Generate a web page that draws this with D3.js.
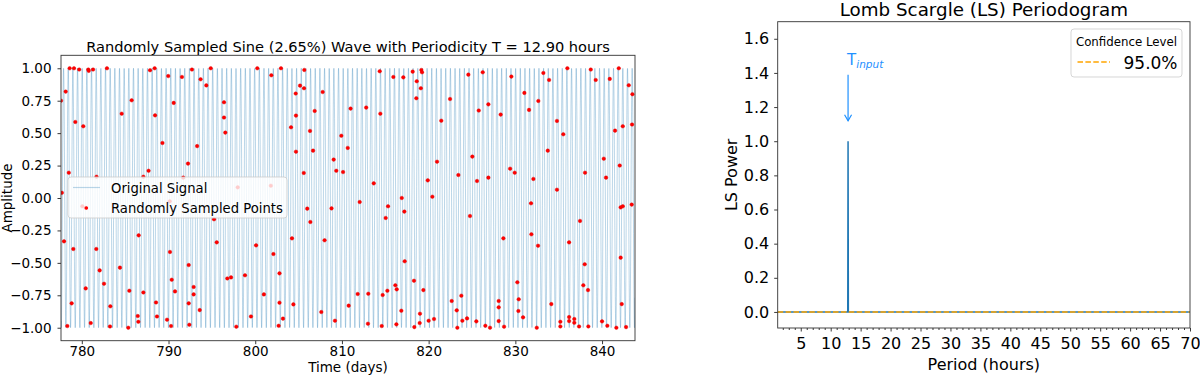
<!DOCTYPE html>
<html>
<head>
<meta charset="utf-8">
<script src="https://cdn.jsdelivr.net/npm/d3@7"></script>
<style>
  body { margin: 0; background: #fff; }
  svg { font-family: "DejaVu Sans", sans-serif; }
</style>
</head>
<body>
<script>
// ---- chart values ----
const signalPeriodHours = 12.90;
const sampledPercent = 2.65;

// randomly sampled points (time in days, amplitude)
const sampleTimes = [
  777.60, 778.14, 778.60, 779.10, 779.70, 780.75, 780.80, 781.30, 782.90, 778.50, 779.25, 780.17,
  781.70, 784.60, 785.75, 787.10, 787.70, 787.87, 788.40, 788.45, 789.30, 789.97, 790.60, 791.55,
  792.25, 792.70, 793.30, 793.70, 794.36, 794.87, 796.40, 796.40, 796.55, 791.70, 797.98, 777.70,
  800.24, 801.86, 802.97, 805.66, 805.17, 805.63, 804.67, 807.78, 804.70, 806.86, 804.13, 806.32,
  811.00, 812.80, 814.43, 804.70, 806.67, 809.93, 810.67, 809.05, 809.35, 810.13, 805.60, 813.67,
  814.36, 815.93, 817.08, 818.16, 819.16, 819.24, 818.63, 819.10, 818.58, 822.47, 821.46, 820.97,
  819.90, 816.90, 820.43, 801.80,
  824.58, 826.24, 829.54, 833.23, 833.89, 836.00, 838.70, 839.27, 840.89, 841.93, 843.08, 843.50,
  831.04, 832.65, 831.58, 825.78, 826.89, 828.31, 834.80, 835.53, 841.50, 842.39, 843.46, 825.04,
  833.74, 840.20, 842.04, 823.43, 825.58, 826.89, 829.40, 829.93, 832.08, 834.80, 838.04, 840.46,
  777.95, 779.02, 781.67, 782.06, 782.56, 780.45, 784.40, 786.56, 785.48, 787.10, 790.17, 790.37,
  790.75, 792.33, 792.90, 792.90, 793.60, 795.56, 796.78, 797.21, 798.82, 778.83, 783.29, 788.56,
  792.33, 778.33, 781.03, 783.25, 785.36, 786.45, 786.52, 788.67, 789.83, 790.29, 792.40, 797.82,
  799.51, 780.48, 780.06, 790.14, 795.25,
  806.00, 806.36, 804.24, 802.10, 802.80, 801.00, 802.80, 804.40, 802.70, 803.20, 800.10, 808.00,
  808.80, 807.62, 809.20, 810.78, 811.82, 812.05, 813.04, 813.00, 814.70, 814.59, 815.24, 815.05,
  815.32, 816.16, 816.32, 816.28, 817.20, 817.24, 816.85, 818.31, 819.00, 818.97, 818.35, 819.39,
  820.00, 820.62,
  831.81, 824.77, 837.46, 842.15, 842.39, 843.42, 828.62, 831.85, 832.62, 836.20, 842.15, 838.00,
  837.84, 838.38, 830.23, 830.39, 830.35, 830.89, 828.08, 828.08, 828.08, 828.70, 822.66, 823.77,
  823.24, 823.31, 823.89, 824.43, 825.50, 826.54, 827.08, 832.47, 834.15, 835.19, 835.19, 836.20,
  836.20, 836.80, 836.80, 837.35, 838.42, 840.00, 840.61, 841.65, 842.27, 842.77
];
const sampleAmps = [
  0.750, 0.820, 1.000, 1.000, 0.990, 0.990, 0.980, 0.990, 1.000, 0.195, 0.586, 0.553,
  0.164, 0.650, 0.753, 0.164, 0.210, 0.985, 1.000, 0.637, 0.424, 0.940, 0.733, 0.933,
  0.265, 0.990, 0.400, 0.915, 0.868, 1.000, 0.738, 0.620, 0.504, 0.157, 0.082, 0.040,
  1.000, 0.946, 1.000, 0.987, 0.866, 0.846, 0.805, 0.817, 0.635, 0.671, 0.545, 0.517,
  0.689, 0.697, 0.650, 0.357, 0.365, 0.480, 0.386, 0.296, 0.210, 0.200, 0.193, 0.113,
  0.977, 0.933, 0.930, 0.974, 0.987, 0.969, 0.900, 0.846, 0.769, 0.763, 0.596, 0.280,
  0.136, 0.000, 0.010, 0.095,
  0.951, 0.969, 0.936, 0.964, 0.910, 1.000, 0.990, 0.910, 0.918, 1.000, 0.869, 0.800,
  0.810, 0.748, 0.679, 0.674, 0.722, 0.643, 0.594, 0.491, 0.519, 0.553, 0.566, 0.319,
  0.365, 0.303, 0.250, 0.177, 0.131, 0.157, 0.226, 0.195, 0.147, 0.064, 0.195, 0.157,
  -0.334, -0.393, -0.393, -0.558, -0.661, -0.697, -0.537, -0.288, -0.715, -0.728, -0.416, -0.630,
  -0.720, -0.517, -0.686, -0.743, -0.864, -0.342, -0.620, -0.612, -0.596, -0.812, -0.835, -0.805,
  -0.812, -0.987, -0.964, -0.990, -1.000, -0.910, -0.954, -0.913, -0.938, -0.987, -0.977, -0.992,
  -0.913, -0.077, -0.064, -0.026, -0.164,
  -0.082, -0.185, -0.311, -0.432, -0.581, -0.743, -0.807, -0.820, -0.985, -0.930, -0.365, -0.326,
  -0.080, -0.879, -0.946, -0.830, -0.740, -0.031, -0.738, -0.969, -0.748, -0.987, -0.715, -0.154,
  -0.064, -0.673, -0.704, -0.974, -0.105, -0.488, -0.869, -0.638, -0.892, -0.964, -0.995, -0.710,
  -0.946, -0.933,
  -0.041, -0.139, -0.177, -0.072, -0.064, -0.051, -0.311, -0.280, -0.368, -0.342, -0.460, -0.511,
  -0.673, -0.710, -0.650, -0.781, -0.871, -0.920, -0.794, -0.843, -0.949, -0.992, -0.794, -0.753,
  -0.866, -1.000, -0.946, -0.928, -0.951, -0.985, -1.000, -1.000, -0.818, -0.954, -0.990, -0.918,
  -0.949, -0.933, -0.962, -0.990, -0.990, -0.951, -0.985, -1.000, -0.818, -0.995
];
const timeRange = [777.6, 843.8];
const timeTicks = [780, 790, 800, 810, 820, 830, 840];
const ampTicks = [-1.00, -0.75, -0.50, -0.25, 0.00, 0.25, 0.50, 0.75, 1.00];

// Lomb Scargle periodogram
const lsPeriods = [1.15, 12.85, 12.90, 12.95, 70];
const lsPower = [0, 0, 1.0, 0, 0];
const confidenceLabel = "95.0%";
const confidencePower = 0.0;
const periodTicks = [5, 10, 15, 20, 25, 30, 35, 40, 45, 50, 55, 60, 65, 70];
const powerTicks = [0.0, 0.2, 0.4, 0.6, 0.8, 1.0, 1.2, 1.4, 1.6];

// ---- layout ----
const W = 1200, H = 375;
const svg = d3.select('body').append('svg').attr('width', W).attr('height', H);

const L = { left: 61, right: 635, top: 55.3, bottom: 340.7 };
const R = { left: 777.7, right: 1190, top: 21.7, bottom: 328 };

const sigBlue = '#1f77b4';

function styleAxis(g, fontSize) {
  g.select('.domain').remove();
  g.selectAll('.tick line').attr('stroke', '#222').attr('stroke-width', 0.9);
  g.selectAll('.tick text').attr('fill', '#000').style('font-size', fontSize + 'px')
    .style('font-family', '"DejaVu Sans", sans-serif');
}

// ================= left panel =================
const xL = d3.scaleLinear().domain(timeRange).range([L.left, L.right]);
const yL = d3.scaleLinear().domain([-1.1, 1.1]).range([L.bottom, L.top]);

svg.append('clipPath').attr('id', 'clipL')
  .append('rect').attr('x', L.left).attr('y', L.top)
  .attr('width', L.right - L.left).attr('height', L.bottom - L.top);

// original signal: sine with the period given in the title
const periodDays = signalPeriodHours / 24;
const signalT = d3.range(timeRange[0], timeRange[1] + 0.01, 0.01);
const line = d3.line()
  .x(t => xL(t))
  .y(t => yL(Math.sin(2 * Math.PI * t / periodDays)));

svg.append('path')
  .datum(signalT)
  .attr('clip-path', 'url(#clipL)')
  .attr('d', line)
  .attr('fill', 'none')
  .attr('stroke', sigBlue)
  .attr('stroke-opacity', 0.3)
  .attr('stroke-width', 1);

const samples = sampleTimes.map((t, i) => ({ t, a: sampleAmps[i] }));
svg.append('g').attr('clip-path', 'url(#clipL)')
  .selectAll('circle')
  .data(samples)
  .enter()
  .append('circle')
  .attr('cx', d => xL(d.t))
  .attr('cy', d => yL(d.a))
  .attr('r', 1.8)
  .attr('fill', '#f00')
  .attr('stroke', '#d00')
  .attr('stroke-width', 0.4);

// axes
svg.append('g')
  .attr('transform', `translate(0,${L.bottom})`)
  .call(d3.axisBottom(xL).tickValues(timeTicks).tickSize(3.5).tickPadding(2).tickSizeOuter(0))
  .call(g => styleAxis(g, 13.5));

svg.append('g')
  .attr('transform', `translate(${L.left},0)`)
  .call(d3.axisLeft(yL).tickValues(ampTicks).tickFormat(d3.format('.2f')).tickSize(3.5).tickPadding(6).tickSizeOuter(0))
  .call(g => styleAxis(g, 13.5));

svg.append('rect')
  .attr('x', L.left).attr('y', L.top)
  .attr('width', L.right - L.left).attr('height', L.bottom - L.top)
  .attr('fill', 'none').attr('stroke', '#333').attr('stroke-width', 0.9);

svg.append('text')
  .attr('x', (L.left + L.right) / 2).attr('y', 51.5)
  .attr('text-anchor', 'middle')
  .style('font-size', '14.6px')
  .text(`Randomly Sampled Sine (${sampledPercent.toFixed(2)}%) Wave with Periodicity T = ${signalPeriodHours.toFixed(2)} hours`);

svg.append('text')
  .attr('x', (L.left + L.right) / 2).attr('y', 372)
  .attr('text-anchor', 'middle')
  .style('font-size', '13.5px')
  .text('Time (days)');

svg.append('text')
  .attr('transform', `translate(12,${(L.top + L.bottom) / 2}) rotate(-90)`)
  .attr('text-anchor', 'middle')
  .style('font-size', '13.5px')
  .text('Amplitude');

// legend (left)
const legL = svg.append('g');
legL.append('rect')
  .attr('x', 68).attr('y', 177).attr('width', 219).attr('height', 41).attr('rx', 3)
  .attr('fill', '#fff').attr('fill-opacity', 0.8)
  .attr('stroke', '#ccc').attr('stroke-opacity', 0.8);
legL.append('line')
  .attr('x1', 73).attr('x2', 100).attr('y1', 187.5).attr('y2', 187.5)
  .attr('stroke', sigBlue).attr('stroke-opacity', 0.3).attr('stroke-width', 1.2);
legL.append('circle')
  .attr('cx', 86.3).attr('cy', 208).attr('r', 1.8).attr('fill', '#f00');
legL.append('text').attr('x', 111).attr('y', 192.5).style('font-size', '13.2px').text('Original Signal');
legL.append('text').attr('x', 111).attr('y', 212.5).style('font-size', '13.2px').text('Randomly Sampled Points');

// ================= right panel =================
const xR = d3.scaleLinear().domain([1.15, 70]).range([R.left, R.right]);
const yR = d3.scaleLinear().domain([-0.094, 1.7]).range([R.bottom, R.top]);

svg.append('clipPath').attr('id', 'clipR')
  .append('rect').attr('x', R.left).attr('y', R.top)
  .attr('width', R.right - R.left).attr('height', R.bottom - R.top);

const lsLine = d3.line().x((p, i) => xR(p)).y((p, i) => yR(lsPower[i]));
svg.append('path')
  .datum(lsPeriods)
  .attr('clip-path', 'url(#clipR)')
  .attr('d', lsLine)
  .attr('fill', 'none')
  .attr('stroke', sigBlue)
  .attr('stroke-width', 1.5);

svg.append('line')
  .attr('clip-path', 'url(#clipR)')
  .attr('x1', xR.range()[0]).attr('x2', xR.range()[1])
  .attr('y1', yR(confidencePower)).attr('y2', yR(confidencePower))
  .attr('stroke', 'orange').attr('stroke-width', 1.5)
  .attr('stroke-dasharray', '5.5,2.4');

// axes
const minorPeriods = d3.range(2, 71).filter(v => v % 5 !== 0);
svg.append('g')
  .attr('transform', `translate(0,${R.bottom})`)
  .call(d3.axisBottom(xR).tickValues(minorPeriods).tickSize(2).tickFormat('').tickSizeOuter(0))
  .call(g => styleAxis(g, 16));

svg.append('g')
  .attr('transform', `translate(0,${R.bottom})`)
  .call(d3.axisBottom(xR).tickValues(periodTicks).tickSize(3.5).tickPadding(6).tickSizeOuter(0))
  .call(g => styleAxis(g, 16));

svg.append('g')
  .attr('transform', `translate(${R.left},0)`)
  .call(d3.axisLeft(yR).tickValues(powerTicks).tickFormat(d3.format('.1f')).tickSize(3.5).tickPadding(5).tickSizeOuter(0))
  .call(g => styleAxis(g, 16));

svg.append('rect')
  .attr('x', R.left).attr('y', R.top)
  .attr('width', R.right - R.left).attr('height', R.bottom - R.top)
  .attr('fill', 'none').attr('stroke', '#333').attr('stroke-width', 0.9);

svg.append('text')
  .attr('x', (R.left + R.right) / 2).attr('y', 15.5)
  .attr('text-anchor', 'middle')
  .style('font-size', '18.3px')
  .text('Lomb Scargle (LS) Periodogram');

svg.append('text')
  .attr('x', (R.left + R.right) / 2).attr('y', 369.5)
  .attr('text-anchor', 'middle')
  .style('font-size', '16px')
  .text('Period (hours)');

svg.append('text')
  .attr('transform', `translate(737,${(R.top + R.bottom) / 2}) rotate(-90)`)
  .attr('text-anchor', 'middle')
  .style('font-size', '16px')
  .text('LS Power');

// T_input annotation with arrow
const tx = xR(signalPeriodHours);
const arrowTop = yR(1.39), arrowTip = yR(1.12);
const annot = svg.append('g').attr('stroke', '#1e90ff').attr('fill', 'none').attr('stroke-width', 1.2);
annot.append('line').attr('x1', tx).attr('x2', tx).attr('y1', arrowTop).attr('y2', arrowTip);
annot.append('path').attr('d', `M${tx - 3.5},${arrowTip - 6} L${tx},${arrowTip} L${tx + 3.5},${arrowTip - 6}`);

const tlabel = svg.append('text')
  .attr('x', tx - 1).attr('y', yR(1.445))
  .attr('fill', '#1e90ff')
  .style('font-size', '15px');
tlabel.append('tspan').text('T');
tlabel.append('tspan').attr('dy', 3).style('font-size', '10.5px').style('font-style', 'italic').text('input');

// legend (right)
const legR = svg.append('g');
legR.append('rect')
  .attr('x', 1071).attr('y', 29).attr('width', 111).attr('height', 48).attr('rx', 3)
  .attr('fill', '#fff').attr('fill-opacity', 0.8)
  .attr('stroke', '#ccc').attr('stroke-opacity', 0.8);
legR.append('text').attr('x', 1126.5).attr('y', 46)
  .attr('text-anchor', 'middle').style('font-size', '11.8px').text('Confidence Level');
legR.append('line')
  .attr('x1', 1077.5).attr('x2', 1110).attr('y1', 62).attr('y2', 62)
  .attr('stroke', 'orange').attr('stroke-width', 1.5).attr('stroke-dasharray', '5.5,2.4');
legR.append('text').attr('x', 1123.5).attr('y', 68.5).style('font-size', '17px').text(confidenceLabel);
</script>
</body>
</html>
